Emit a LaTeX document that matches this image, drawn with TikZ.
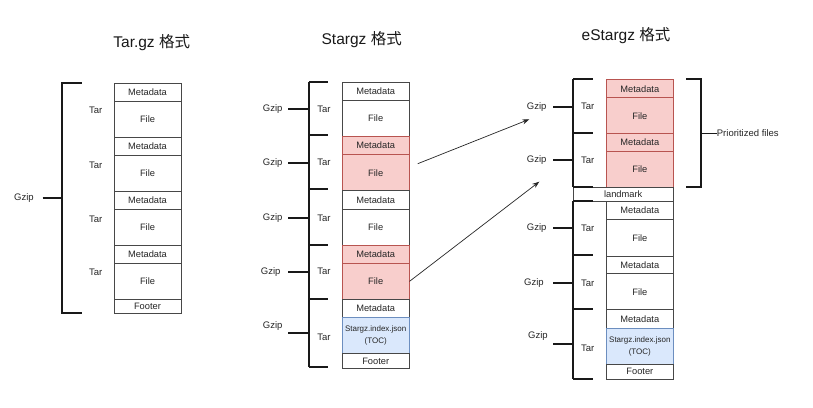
\documentclass[tikz,border=0pt]{standalone}
\usepackage{fontspec}
\setmainfont{Liberation Sans}
\newfontfamily\cjk{Noto Sans CJK SC}
\usetikzlibrary{arrows.meta,calc}
\definecolor{redfill}{HTML}{F8CECC}
\definecolor{redline}{HTML}{B85450}
\definecolor{bluefill}{HTML}{DAE8FC}
\definecolor{blueline}{HTML}{6C8EBF}
\definecolor{txt}{HTML}{262626}
\tikzset{
  box/.style={draw=black!72, line width=0.8pt, fill=white, inner sep=0pt, anchor=north,
    font=\fontsize{9.3}{11}\selectfont, text=txt},
  colA/.style={box, minimum width=67pt},
  colB/.style={box, minimum width=66.7pt},
  colC/.style={box, minimum width=66.3pt},
  redbox/.style={fill=redfill, draw=redline},
  bluebox/.style={fill=bluefill, draw=blueline},
  brk/.style={line width=2pt, black!90},
  lbl/.style={font=\fontsize{9.5}{11}\selectfont, text=txt, inner sep=0pt},
  ttl/.style={font=\fontsize{15.5}{18}\selectfont, text=black!90, inner sep=0pt},
  arr/.style={-{Stealth[length=7pt,width=5pt]}, line width=0.7pt, black!85},
  thin/.style={line width=0.8pt, black!90},
}
\begin{document}
\begin{tikzpicture}[x=1pt,y=-1pt]
\useasboundingbox (0,0) rectangle (813,407);
\fill[white] (0,0) rectangle (813,407);

% titles
\node[ttl] (t1) at (151.7,42.7) {Tar.gz {\cjk 格式}};
\node[ttl] (t2) at (361.7,39.3) {Stargz {\cjk 格式}};
\node[ttl] (t3) at (626,36) {eStargz {\cjk 格式}};

% ---------- Tar.gz column ----------
\node[colA, minimum height=18pt] (a1) at (147.5,83) {Metadata};
\node[colA, minimum height=36pt] (a2) at (147.5,101) {File};
\node[colA, minimum height=18pt] (a3) at (147.5,137) {Metadata};
\node[colA, minimum height=36pt] (a4) at (147.5,155) {File};
\node[colA, minimum height=18pt] (a5) at (147.5,191) {Metadata};
\node[colA, minimum height=36pt] (a6) at (147.5,209) {File};
\node[colA, minimum height=18pt] (a7) at (147.5,245) {Metadata};
\node[colA, minimum height=36pt] (a8) at (147.5,263) {File};
\node[colA, minimum height=14pt] (a9) at (147.5,299) {Footer};

\node[lbl] (ata1) at (95.7,110.7) {Tar};
\node[lbl] (ata2) at (95.7,165) {Tar};
\node[lbl] (ata3) at (95.7,219) {Tar};
\node[lbl] (ata4) at (95.7,272) {Tar};
\node[lbl] (agz) at (24,198) {Gzip};

\coordinate (ab1) at (81.7,82.7);
\coordinate (ab2) at (81.7,313);
\coordinate (agzl) at (42.7,198);
\draw[brk] (ab1) -- (62,82.7) -- (62,313) -- (ab2);
\draw[brk] (agzl) -- (62,198);

% ---------- Stargz column ----------
\node[colB, minimum height=18.3pt] (b1) at (375.7,81.7) {Metadata};
\node[colB, minimum height=36pt] (b2) at (375.7,100) {File};
\node[colB, redbox, minimum height=18.3pt] (b3) at (375.7,136) {Metadata};
\node[colB, redbox, minimum height=36pt] (b4) at (375.7,154.3) {File};
\node[colB, minimum height=18.3pt] (b5) at (375.7,190.3) {Metadata};
\node[colB, minimum height=36pt] (b6) at (375.7,208.6) {File};
\node[colB, redbox, minimum height=18.4pt] (b7) at (375.7,244.6) {Metadata};
\node[colB, redbox, minimum height=36pt] (b8) at (375.7,263) {File};
\node[colB, minimum height=18.3pt] (b9) at (375.7,299) {Metadata};
\node[colB, bluebox, minimum height=36pt, align=center, font=\fontsize{8}{12}\selectfont] (b10) at (375.7,317.3) {Stargz.index.json\\(TOC)};
\node[colB, minimum height=15pt] (b11) at (375.7,353.3) {Footer};

\foreach \y/\n in {109/1,162.7/2,218/3,271.7/4,337.7/5}{
  \node[lbl] (bta\n) at (324,\y) {Tar};
}
\foreach \y/\ly/\x/\n in {109/109/272.7/1,162.7/162.7/272.7/2,218/218/272.7/3,271.7/271.7/270.7/4,333/326/272.7/5}{
  \node[lbl] (bgz\n) at (\x,\ly) {Gzip};
  \coordinate (bgzl\n) at (288.3,\y);
  \draw[brk] (bgzl\n) -- (309,\y);
}
\draw[brk] (309,81.7) -- (309,367.3);
\foreach \y in {81.7,135.3,189.3,245,299,367.3}{
  \draw[brk] (309,\y) -- (328.3,\y);
}

% ---------- eStargz column ----------
\node[colC, redbox, minimum height=18pt] (c1) at (639.85,79.3) {Metadata};
\node[colC, redbox, minimum height=36pt] (c2) at (639.85,97.3) {File};
\node[colC, redbox, minimum height=17.7pt] (c3) at (639.85,133.3) {Metadata};
\node[colC, redbox, minimum height=35.7pt] (c4) at (639.85,151) {File};
\node[box, minimum width=99.7pt, minimum height=14.3pt] (cl) at (623.15,186.7) {landmark};
\node[colC, minimum height=18pt] (c5) at (639.85,201) {Metadata};
\node[colC, minimum height=36.7pt] (c6) at (639.85,219) {File};
\node[colC, minimum height=17.6pt] (c7) at (639.85,255.7) {Metadata};
\node[colC, minimum height=36pt] (c8) at (639.85,273.3) {File};
\node[colC, minimum height=18.4pt] (c9) at (639.85,309.3) {Metadata};
\node[colC, bluebox, minimum height=36pt, align=center, font=\fontsize{8}{12}\selectfont] (c10) at (639.85,327.7) {Stargz.index.json\\(TOC)};
\node[colC, minimum height=15pt] (c11) at (639.85,363.7) {Footer};

\foreach \y/\n in {106.7/1,160.3/2,228.3/3,283.3/4,348.7/5}{
  \node[lbl] (cta\n) at (587.7,\y) {Tar};
}
\foreach \y/\ly/\x/\n in {106.7/106.7/536.7/1,160.3/160.3/536.7/2,228.3/228.3/536.7/3,283.3/283.3/534/4,344/336/538/5}{
  \node[lbl] (cgz\n) at (\x,\ly) {Gzip};
  \coordinate (cgzl\n) at (553.3,\y);
  \draw[brk] (cgzl\n) -- (573.3,\y);
}
\draw[brk] (573.3,79.3) -- (573.3,186.7);
\draw[brk] (573.3,201) -- (573.3,378.7);
\foreach \y in {79.3,133.3,186.7,201,255,308.7,378.7}{
  \draw[brk] (573.3,\y) -- (593.3,\y);
}

% prioritized files bracket
\draw[brk] (686,79.3) -- (700.7,79.3) -- (700.7,186.7) -- (686,186.7);
\node[lbl, anchor=west] (pf) at (716.7,133.3) {Prioritized files};
\draw[thin] (700.7,133.3) -- (pf.west);

% arrows
\coordinate (e1) at (529.3,119.3);
\coordinate (e2) at (539.3,181.7);
\draw[arr] ($(b4.east)+(8.3,-9)$) -- (e1);
\draw[arr] (b8.east) -- (e2);
\end{tikzpicture}
\end{document}
